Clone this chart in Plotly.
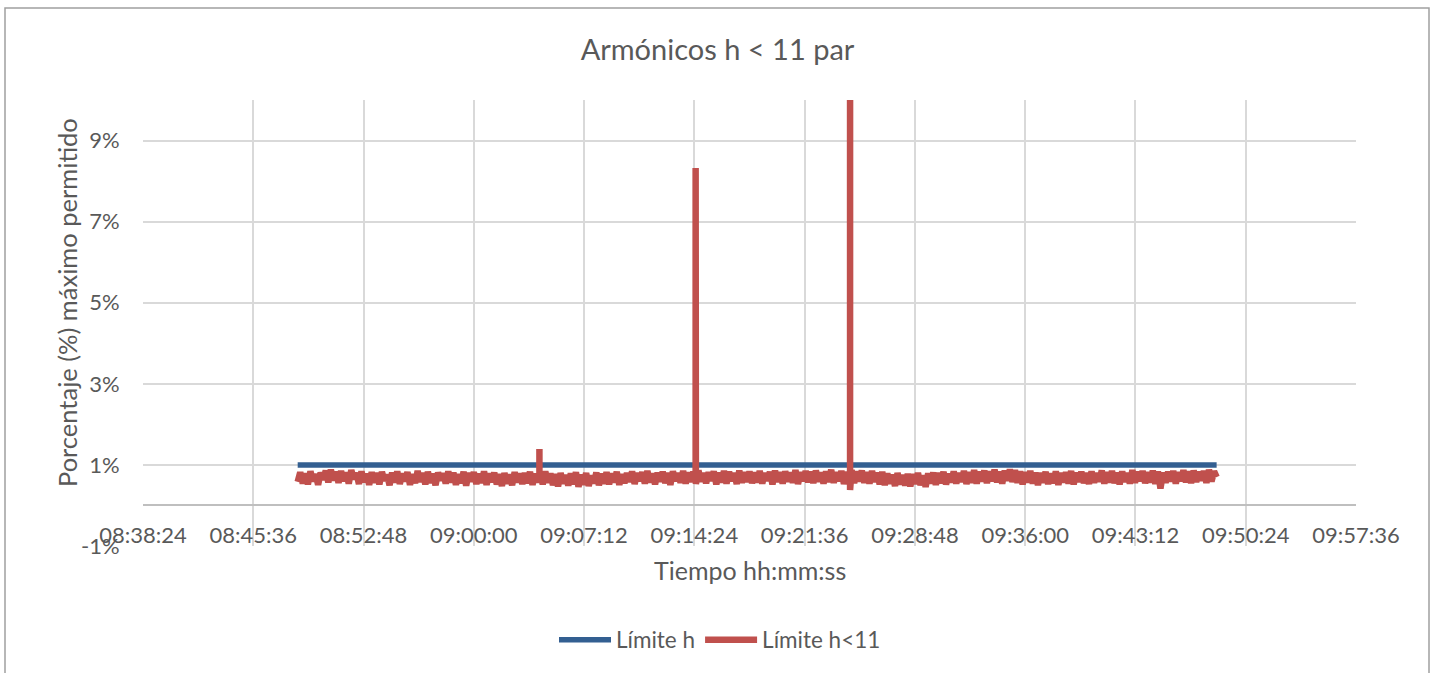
import datetime as dt
import plotly.graph_objects as go

# ---------------- data ----------------
DAY = "2024-01-01"
START_TIME = "08:48:30"      # first sample
STEP_SECONDS = 10            # sampling step of the read-off series

# Límite h<11 (%), one value every 10 s from 08:48:30 to 09:48:30
h11_values = [
    0.58, 0.82, 0.54, 0.79, 0.52, 0.84, 0.60, 0.77, 0.51, 0.81,
    0.64, 0.86, 0.57, 0.88, 0.62, 0.83, 0.56, 0.85, 0.60, 0.81,
    0.54, 0.87, 0.65, 0.80, 0.53, 0.84, 0.58, 0.78, 0.51, 0.82,
    0.56, 0.80, 0.52, 0.83, 0.61, 0.76, 0.50, 0.81, 0.57, 0.84,
    0.53, 0.79, 0.60, 0.82, 0.51, 0.77, 0.55, 0.85, 0.58, 0.80,
    0.52, 0.83, 0.56, 0.78, 0.50, 0.81, 0.62, 0.79, 0.54, 0.84,
    0.57, 0.81, 0.51, 0.77, 0.55, 0.83, 0.49, 0.80, 0.59, 0.82,
    0.53, 0.78, 0.56, 0.84, 0.51, 0.79, 0.58, 0.81, 0.52, 0.77,
    0.48, 0.80, 0.54, 0.76, 0.50, 0.82, 0.57, 0.79, 0.53, 0.80,
    0.55, 0.83, 0.51, 0.78, 0.58, 0.81, 0.52, 0.84, 0.56, 0.79,
    0.50, 0.77, 0.47, 0.80, 0.54, 0.75, 0.49, 0.79, 0.52, 0.82,
    0.46, 0.76, 0.51, 0.80, 0.48, 0.74, 0.55, 0.81, 0.50, 0.78,
    0.54, 0.82, 0.52, 0.79, 0.57, 0.83, 0.51, 0.77, 0.55, 0.80,
    0.58, 0.84, 0.53, 0.80, 0.60, 0.82, 0.54, 0.85, 0.57, 0.79,
    0.52, 0.81, 0.59, 0.83, 0.55, 0.80, 0.51, 0.84, 0.60, 0.80,
    0.56, 0.85, 0.54, 0.81, 0.58, 0.83, 0.53, 0.86, 0.59, 0.80,
    0.55, 0.82, 0.61, 0.84, 0.52, 0.81, 0.57, 0.85, 0.54, 0.83,
    0.60, 0.80, 0.53, 0.86, 0.56, 0.82, 0.58, 0.84, 0.55, 0.81,
    0.57, 0.85, 0.54, 0.80, 0.61, 0.83, 0.52, 0.86, 0.58, 0.82,
    0.54, 0.84, 0.59, 0.81, 0.56, 0.87, 0.53, 0.82, 0.60, 0.85,
    0.57, 0.83, 0.55, 0.86, 0.59, 0.81, 0.54, 0.84, 0.58, 0.88,
    0.56, 0.82, 0.60, 0.85, 0.53, 0.83, 0.57, 0.87, 0.55, 0.84,
    0.59, 0.86, 0.56, 0.82, 0.54, 0.85, 0.58, 0.81, 0.52, 0.83,
    0.50, 0.79, 0.54, 0.76, 0.48, 0.80, 0.52, 0.75, 0.49, 0.78,
    0.47, 0.77, 0.53, 0.80, 0.50, 0.74, 0.46, 0.79, 0.54, 0.81,
    0.51, 0.80, 0.55, 0.83, 0.52, 0.78, 0.57, 0.84, 0.54, 0.80,
    0.58, 0.85, 0.53, 0.82, 0.56, 0.87, 0.54, 0.83, 0.59, 0.86,
    0.55, 0.84, 0.60, 0.88, 0.57, 0.83, 0.54, 0.86, 0.61, 0.89,
    0.58, 0.87, 0.56, 0.84, 0.52, 0.82, 0.57, 0.85, 0.54, 0.81,
    0.50, 0.80, 0.56, 0.83, 0.53, 0.79, 0.55, 0.84, 0.51, 0.80,
    0.57, 0.82, 0.54, 0.85, 0.52, 0.81, 0.58, 0.83, 0.55, 0.80,
    0.53, 0.84, 0.56, 0.80, 0.59, 0.86, 0.54, 0.82, 0.57, 0.85,
    0.55, 0.81, 0.52, 0.84, 0.58, 0.80, 0.54, 0.87, 0.56, 0.83,
    0.60, 0.85, 0.55, 0.82, 0.57, 0.86, 0.53, 0.84, 0.42, 0.81,
    0.56, 0.83, 0.59, 0.85, 0.54, 0.82, 0.60, 0.87, 0.57, 0.84,
    0.55, 0.86, 0.58, 0.83, 0.61, 0.85, 0.56, 0.88, 0.59, 0.84, 0.70,
]

# short spikes of the h<11 series
spike_times = ["09:04:17", "09:14:29", "09:24:34"]
spike_base = [0.68, 0.70, 0.70]
spike_peak = [1.39, 8.32, 12.0]
spike_after = [0.68, 0.70, 0.38]

# Límite h (%), constant
limit_h_value = 1.0

# axis
x_range = ["08:38:24", "09:57:36"]
x_tick_step_ms = 432000       # 7 min 12 s
y_range = [-1, 10]
y_ticks = [-1, 1, 3, 5, 7, 9]
y_tick_text = ["-1%", "1%", "3%", "5%", "7%", "9%"]

TITLE = "Armónicos h < 11 par"
Y_TITLE = "Porcentaje (%) máximo permitido"
X_TITLE = "Tiempo hh:mm:ss"
NAME_H = "Límite h"
NAME_H11 = "Límite h<11"

# ---------------- build series ----------------
def ts(hms):
    return dt.datetime.fromisoformat(f"{DAY}T{hms}")

t0 = ts(START_TIME)
grid_times = [t0 + dt.timedelta(seconds=STEP_SECONDS * i) for i in range(len(h11_values))]

pairs = list(zip(grid_times, h11_values))
for t, b, p, a in zip(spike_times, spike_base, spike_peak, spike_after):
    T = ts(t)
    pairs += [(T, b), (T, p), (T, a)]
pairs = sorted(pairs, key=lambda q: q[0])
red_x = [q[0] for q in pairs]
red_y = [q[1] for q in pairs]

blue_x = grid_times
blue_y = [limit_h_value] * len(grid_times)

BLUE = "#335F91"
RED = "#C0504D"
TXT = "#595959"
GRID = "#D9D9D9"
FONT = "Lato"

fig = go.Figure()
fig.add_trace(go.Scatter(x=blue_x, y=blue_y, mode="lines", name=NAME_H,
                         line=dict(color=BLUE, width=5.5)))
fig.add_trace(go.Scatter(x=red_x, y=red_y, mode="lines", name=NAME_H11,
                         line=dict(color=RED, width=6.5)))

L, R, T_, B = 143, 79, 100, 127
W, H = 1435, 673
pw, ph = W - L - R, H - T_ - B

def px_x(x):
    return (x - L) / pw

def px_y(y):
    return (H - B - y) / ph

fig.update_layout(
    width=W, height=H,
    margin=dict(l=L, r=R, t=T_, b=B, autoexpand=False),
    paper_bgcolor="white", plot_bgcolor="white",
    font=dict(family=FONT, color=TXT, size=22),
    title=dict(text=TITLE, x=0.5, xref="container", xanchor="center",
               y=1 - 50 / H, yanchor="middle",
               font=dict(size=29, color=TXT, family=FONT)),
    showlegend=True,
    legend=dict(orientation="h", x=px_x(720), xanchor="center",
                y=px_y(640), yanchor="middle", itemwidth=52,
                font=dict(size=22.5, color=TXT, family=FONT),
                bgcolor="rgba(0,0,0,0)"),
    xaxis=dict(
        type="date",
        range=[ts(x_range[0]), ts(x_range[1])],
        tick0=ts(x_range[0]), dtick=x_tick_step_ms,
        tickformat="%H:%M:%S",
        showgrid=True, gridcolor=GRID, gridwidth=1.5,
        anchor="free", position=(0 - y_range[0]) / (y_range[1] - y_range[0]),
        showline=False, zeroline=False,
        ticks="outside", ticklen=0, ticklabelstandoff=10,
        tickfont=dict(size=22, color=TXT, family=FONT),
    ),
    yaxis=dict(
        range=y_range, tickmode="array", tickvals=y_ticks, ticktext=y_tick_text,
        showgrid=True, gridcolor=GRID, gridwidth=1.5,
        zeroline=True, zerolinecolor="#BFBFBF", zerolinewidth=2,
        showline=False,
        ticks="outside", ticklen=0, ticklabelstandoff=18,
        tickfont=dict(size=22, color=TXT, family=FONT),
    ),
    annotations=[
        dict(text=Y_TITLE, xref="paper", yref="paper", x=px_x(67), y=px_y(303),
             textangle=-90, showarrow=False, xanchor="center", yanchor="middle",
             font=dict(size=25.5, color=TXT, family=FONT)),
        dict(text=X_TITLE, xref="paper", yref="paper", x=px_x(750), y=px_y(570),
             showarrow=False, xanchor="center", yanchor="middle",
             font=dict(size=25, color=TXT, family=FONT)),
    ],
    shapes=[
        dict(type="rect", xref="paper", yref="paper",
             x0=px_x(5), x1=px_x(1429), y0=px_y(690), y1=px_y(8),
             line=dict(color="#A0A0A0", width=1.5), fillcolor="rgba(0,0,0,0)",
             layer="below"),
    ],
)

fig.write_html("out.html", config={"displayModeBar": False},
               post_script="document.body.style.margin='0';")
